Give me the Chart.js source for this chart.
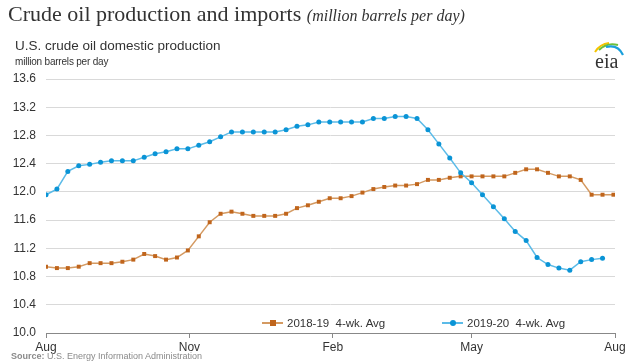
<!DOCTYPE html>
<html>
<head>
<meta charset="utf-8">
<script src="https://cdn.jsdelivr.net/npm/chart.js@4/dist/chart.umd.min.js"></script>
<style>
  html, body { margin: 0; padding: 0; background: #fff; }
  #wrap { position: relative; width: 640px; height: 362px; overflow: hidden; font-family: "Liberation Sans", Arial, sans-serif; color: #333; }
  #chart { position: absolute; left: 0; top: 0; }
  .abs { position: absolute; white-space: pre; }
  #title { left: 8px; top: 1px; font-family: "Liberation Serif", "Times New Roman", serif; font-size: 22px; color: #333; }
  #title i { font-size: 16px; }
  #sub { left: 15px; top: 38px; font-size: 13.5px; }
  #unit { left: 15px; top: 56px; font-size: 10px; letter-spacing: -0.2px; }
  #source { left: 11px; top: 351px; font-size: 9px; color: #8a8a8a; }
  #source b { font-weight: bold; }
  .leg { top: 315px; font-size: 11.5px; height: 16px; line-height: 16px; }
  .leg .ln { position: absolute; top: 7px; width: 21px; height: 2px; }
  .leg .mk { position: absolute; }
  .leg span.tx { position: absolute; left: 25px; top: 0; }
  #logo { left: 592px; top: 38px; }
</style>
</head>
<body>
<div id="wrap">
  <canvas id="chart" width="640" height="362"></canvas>
  <div id="title" class="abs">Crude oil production and imports <i>(million barrels per day)</i></div>
  <div id="sub" class="abs">U.S. crude oil domestic production</div>
  <div id="unit" class="abs">million barrels per day</div>
  <div id="leg1" class="abs leg" style="left:262px">
    <div class="ln" style="background:#d49a62"></div>
    <div class="mk" style="left:8px;top:5px;width:6px;height:6px;background:#c0651c"></div>
    <span class="tx">2018-19  4-wk. Avg</span>
  </div>
  <div id="leg2" class="abs leg" style="left:442px">
    <div class="ln" style="background:#5bbbe8"></div>
    <div class="mk" style="left:8px;top:5px;width:6px;height:6px;border-radius:3px;background:#0a94d6"></div>
    <span class="tx">2019-20  4-wk. Avg</span>
  </div>
  <div id="source" class="abs"><b>Source:</b> U.S. Energy Information Administration</div>
  <svg id="logo" class="abs" width="34" height="32" viewBox="0 0 34 32">
    <path d="M3 14 Q8 6 17 5" stroke="#f5c400" stroke-width="2" fill="none"/>
    <path d="M7 12 Q15 4 26 7" stroke="#6cbf3c" stroke-width="2" fill="none"/>
    <path d="M14 9 Q26 6 31 17" stroke="#1aa0dc" stroke-width="2.2" fill="none"/>
    <text x="3" y="30" font-family="Liberation Serif, serif" font-size="20" fill="#333">eia</text>
  </svg>
</div>
<script>
// weekly 4-week averages, million barrels per day, starting first week of August
const X_TICK_DAYS = [0, 92, 184, 273, 365];
const X_TICK_LABELS = ["Aug", "Nov", "Feb", "May", "Aug"];

const PROD_2018_19 = [
  10.94, 10.92, 10.92, 10.94, 10.99, 10.99, 10.99, 11.01, 11.04, 11.12,
  11.09, 11.04, 11.07, 11.17, 11.37, 11.57, 11.69, 11.72, 11.69, 11.66,
  11.66, 11.66, 11.69, 11.77, 11.81, 11.86, 11.91, 11.91, 11.94, 11.99,
  12.04, 12.07, 12.09, 12.09, 12.11, 12.17, 12.17, 12.20, 12.22, 12.22,
  12.22, 12.22, 12.22, 12.27, 12.32, 12.32, 12.27, 12.22, 12.22, 12.17,
  11.96, 11.96, 11.96,
];
const PROD_2019_20 = [
  11.96, 12.04, 12.29, 12.37, 12.39, 12.42, 12.44, 12.44, 12.44, 12.49,
  12.54, 12.57, 12.61, 12.61, 12.66, 12.71, 12.78, 12.85, 12.85, 12.85,
  12.85, 12.85, 12.88, 12.93, 12.95, 12.99, 12.99, 12.99, 12.99, 12.99,
  13.04, 13.04, 13.07, 13.07, 13.04, 12.88, 12.68, 12.48, 12.27, 12.13,
  11.96, 11.79, 11.62, 11.44, 11.31, 11.07, 10.97, 10.92, 10.89, 11.01,
  11.04, 11.06,
];

const weekly = (vals) => vals.map((v, i) => ({ x: i * 7, y: v }));

new Chart(document.getElementById("chart"), {
  type: "line",
  data: {
    datasets: [
      {
        label: "2019-20  4-wk. Avg",
        data: weekly(PROD_2019_20),
        borderColor: "#5bbbe8", borderWidth: 1.5,
        pointStyle: "circle", pointRadius: 2.5,
        pointBackgroundColor: "#0a94d6", pointBorderWidth: 0,
        tension: 0, order: 0,
      },
      {
        label: "2018-19  4-wk. Avg",
        data: weekly(PROD_2018_19),
        borderColor: "#d49a62", borderWidth: 1.5,
        pointStyle: "rect", pointRadius: 2.8,
        pointBackgroundColor: "#c0651c", pointBorderWidth: 0,
        tension: 0, order: 1,
      },
    ],
  },
  options: {
    responsive: false, animation: false, devicePixelRatio: 1,
    layout: { padding: { top: 79, right: 25, bottom: 7, left: 0 } },
    plugins: { legend: { display: false }, tooltip: { enabled: false } },
    scales: {
      x: {
        type: "linear", min: 0, max: 365,
        afterBuildTicks: (axis) => { axis.ticks = X_TICK_DAYS.map((v) => ({ value: v })); },
        afterFit: (axis) => { axis.height = 22; },
        ticks: {
          autoSkip: false, maxRotation: 0, padding: 2,
          color: "#333", font: { family: "Liberation Sans", size: 12 },
          callback: (v) => X_TICK_LABELS[X_TICK_DAYS.indexOf(v)] ?? "",
        },
        grid: { drawOnChartArea: false, drawTicks: true, tickLength: 5, color: "#888" },
        border: { display: true, color: "#888" },
      },
      y: {
        min: 10, max: 13.6,
        afterFit: (axis) => { axis.width = 46; },
        ticks: {
          stepSize: 0.4, padding: 10,
          color: "#333", font: { family: "Liberation Sans", size: 12 },
          callback: (v) => v.toFixed(1),
        },
        grid: { color: "#d9d9d9", drawTicks: false },
        border: { display: false },
      },
    },
  },
});
</script>
</body>
</html>
